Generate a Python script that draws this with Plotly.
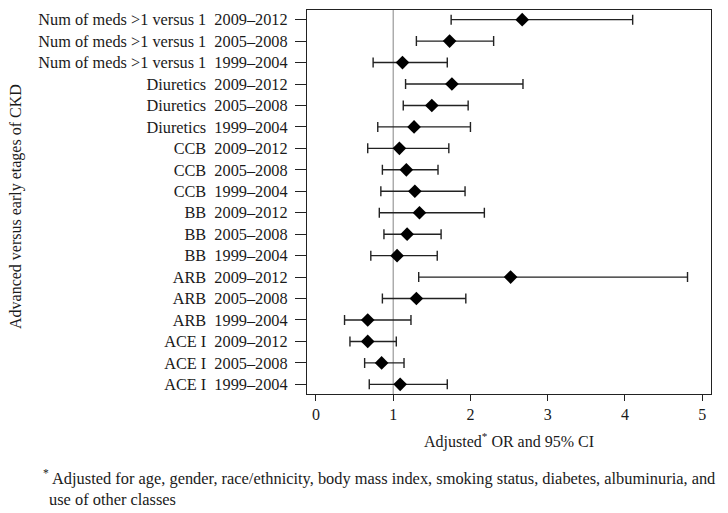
import plotly.graph_objects as go

# Rows listed top to bottom
drugs = ["Num of meds >1 versus 1", "Num of meds >1 versus 1", "Num of meds >1 versus 1",
         "Diuretics", "Diuretics", "Diuretics",
         "CCB", "CCB", "CCB",
         "BB", "BB", "BB",
         "ARB", "ARB", "ARB",
         "ACE I", "ACE I", "ACE I"]
periods = ["2009–2012", "2005–2008", "1999–2004"] * 6
odds_ratio = [2.67, 1.73, 1.12, 1.76, 1.50, 1.27, 1.08, 1.17, 1.28,
              1.34, 1.18, 1.05, 2.52, 1.30, 0.67, 0.67, 0.85, 1.09]
ci_low = [1.75, 1.30, 0.74, 1.16, 1.13, 0.80, 0.67, 0.86, 0.84,
          0.82, 0.88, 0.71, 1.33, 0.86, 0.37, 0.44, 0.63, 0.69]
ci_high = [4.10, 2.30, 1.70, 2.68, 1.97, 2.00, 1.72, 1.58, 1.93,
           2.18, 1.62, 1.57, 4.81, 1.94, 1.23, 1.04, 1.14, 1.70]
x_ticks = [0, 1, 2, 3, 4, 5]

labels = [f"{d}\u00a0\u00a0{p}" for d, p in zip(drugs, periods)]
err_plus = [h - o for h, o in zip(ci_high, odds_ratio)]
err_minus = [o - l for o, l in zip(odds_ratio, ci_low)]

FONT = "Liberation Serif, Times New Roman, serif"
W, H = 728, 513
L, R, T, B = 307, 17, 10, 119
PW, PH = W - L - R, H - T - B


def px_to_paper(xp, yp):
    return (xp - L) / PW, (H - B - yp) / PH


fig = go.Figure()
fig.add_trace(go.Scatter(
    x=odds_ratio, y=labels, mode="markers",
    marker=dict(symbol="diamond", size=10.5, color="black"),
    error_x=dict(type="data", symmetric=False, array=err_plus, arrayminus=err_minus,
                 color="#222222", thickness=1.4, width=5),
    showlegend=False,
))

fig.add_shape(type="line", x0=1, x1=1, xref="x", y0=0, y1=1, yref="paper",
              line=dict(color="#999999", width=1.2), layer="below")

fig.update_layout(
    width=W, height=H,
    margin=dict(l=L, r=R, t=T, b=B),
    paper_bgcolor="white", plot_bgcolor="white",
    font=dict(family=FONT, size=16, color="#1a1a1a"),
    xaxis=dict(range=[-0.116, 5.114], tickvals=x_ticks, ticks="outside", ticklen=6,
               tickcolor="#222", showgrid=False, zeroline=False, showline=True,
               linecolor="#222", linewidth=1.2, mirror=True, automargin=False,
               tickfont=dict(size=16)),
    yaxis=dict(type="category", categoryarray=labels, range=[17.45, -0.45],
               ticks="outside", ticklen=11, tickcolor="#222", showgrid=False, zeroline=False,
               showline=True, linecolor="#222", linewidth=1.2, mirror=True, automargin=False,
               ticklabelstandoff=4, tickfont=dict(size=16.3)),
)

# x-axis title
ax, ay = px_to_paper(509, 440)
fig.add_annotation(x=ax, y=ay, xref="paper", yref="paper", xanchor="center", yanchor="middle",
                   showarrow=False, text="Adjusted<sup>*</sup> OR and 95% CI",
                   font=dict(size=16, family=FONT))

# y-axis title
tx, ty = px_to_paper(16, 207)
fig.add_annotation(x=tx, y=ty, xref="paper", yref="paper", textangle=-90,
                   xanchor="center", yanchor="middle", showarrow=False,
                   text="Advanced versus early etages of CKD", font=dict(size=16, family=FONT))

# footnote
fx, fy1 = px_to_paper(41, 477)
_, fy2 = px_to_paper(41, 499)
fig.add_annotation(x=fx, y=fy1, xref="paper", yref="paper", xanchor="left", yanchor="middle",
                   showarrow=False, align="left",
                   text="<sup>*</sup>\u2009Adjusted for age, gender, race/ethnicity, body mass index, smoking status, diabetes, albuminuria, and",
                   font=dict(size=16.4, family=FONT))
gx, _ = px_to_paper(47, 499)
fig.add_annotation(x=gx, y=fy2, xref="paper", yref="paper", xanchor="left", yanchor="middle",
                   showarrow=False, align="left", text="use of other classes",
                   font=dict(size=16.4, family=FONT))

fig.write_html("out.html", post_script="document.body.style.margin='0';",
               config={"displayModeBar": False})
